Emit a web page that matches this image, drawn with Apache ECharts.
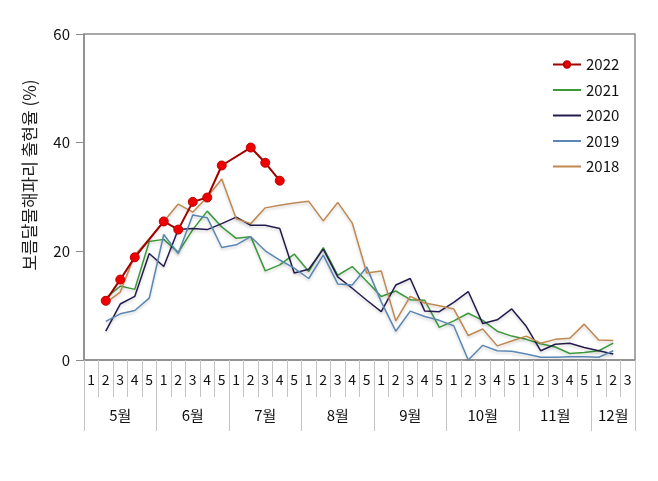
<!DOCTYPE html>
<html>
<head>
<meta charset="utf-8">
<script src="https://cdn.jsdelivr.net/npm/echarts@6/dist/echarts.min.js"></script>
<style>
html,body{margin:0;padding:0;background:#fff;}
#chart{width:658px;height:481px;}
</style>
</head>
<body>
<div id="chart"></div>
<script>
// Months and number of weeks in each
const months = ['5월', '6월', '7월', '8월', '9월', '10월', '11월', '12월'];
const weeksPerMonth = [5, 5, 5, 5, 5, 5, 5, 3];

// Values per week (index 0 = 5월 1주 ... index 37 = 12월 3주)
const y2022 = [null, 10.9, 14.8, 18.9, null, 25.5, 24.0, 29.1, 29.9, 35.8, null, 39.1, 36.3, 33.0,
  null, null, null, null, null, null, null, null, null, null, null, null, null, null, null, null,
  null, null, null, null, null, null, null, null];
const y2021 = [null, 11.4, 13.6, 13.0, 21.8, 22.2, 19.8, 24.0, 27.4, 24.5, 22.4, 22.7, 16.4, 17.5,
  19.5, 16.3, 20.7, 15.6, 17.2, 14.5, 11.7, 12.7, 11.1, 11.0, 6.0, 7.2, 8.6, 7.3, 5.3, 4.4,
  3.8, 3.0, 2.4, 1.2, 1.4, 1.7, 3.1, null];
const y2020 = [null, 5.3, 10.3, 11.7, 19.6, 17.2, 24.0, 24.2, 24.0, 25.1, 26.3, 24.8, 24.8, 24.2,
  16.0, 16.7, 20.4, 15.3, 13.2, 11.0, 8.9, 13.8, 15.0, 9.0, 8.9, 10.6, 12.6, 6.7, 7.4, 9.4,
  6.2, 1.7, 2.9, 3.1, 2.3, 1.7, 1.1, null];
const y2019 = [null, 7.1, 8.5, 9.1, 11.4, 23.1, 19.6, 26.7, 26.2, 20.7, 21.2, 22.7, 20.1, 18.4,
  16.9, 15.0, 19.3, 14.0, 13.8, 17.1, 10.7, 5.3, 9.0, 8.0, 7.3, 6.3, 0.0, 2.7, 1.7, 1.6,
  1.1, 0.5, 0.5, 0.6, 0.6, 0.5, 1.7, null];
const y2018 = [null, 10.5, 12.5, 19.3, 22.3, 25.5, 28.7, 27.2, 30.0, 33.3, 26.0, 25.1, 28.0, 28.5,
  28.9, 29.2, 25.6, 29.0, 25.2, 16.0, 16.4, 7.2, 11.7, 10.5, 10.0, 9.4, 4.5, 5.7, 2.6, 3.5,
  4.4, 3.1, 3.8, 4.0, 6.6, 3.7, 3.6, null];

const yTicks = { min: 0, max: 60, interval: 20 };

// Build week labels and month-axis helpers
const weekLabels = [];
const monthOfWeek = [];
const monthStart = new Set();
const monthMid = new Set();
let idx = 0;
weeksPerMonth.forEach(function (n, m) {
  monthStart.add(idx);
  monthMid.add(idx + Math.floor(n / 2));
  for (let w = 1; w <= n; w++) {
    weekLabels.push(String(w));
    monthOfWeek.push(months[m]);
    idx++;
  }
});

const FONT = '"Noto Sans CJK KR", "Noto Sans", sans-serif';
const lineShadow = { shadowColor: 'rgba(0,0,0,0.18)', shadowBlur: 3, shadowOffsetY: 2 };
const noMarker = { opacity: 0 };

const chart = echarts.init(document.getElementById('chart'), null, { renderer: 'canvas' });
chart.setOption({
  animation: false,
  backgroundColor: '#fff',
  textStyle: { fontFamily: FONT },
  grid: {
    left: 84, right: 23, top: 34, bottom: 121,
    show: true, borderColor: '#8c8c8c', borderWidth: 1.5, backgroundColor: 'transparent'
  },
  legend: {
    orient: 'vertical',
    left: 547, top: 52,
    itemWidth: 28, itemHeight: 8, itemGap: 10.5,
    textStyle: { fontSize: 15, color: '#111', fontFamily: FONT },
    data: [
      { name: '2022' },
      { name: '2021', itemStyle: noMarker },
      { name: '2020', itemStyle: noMarker },
      { name: '2019', itemStyle: noMarker },
      { name: '2018', itemStyle: noMarker }
    ]
  },
  xAxis: [
    {
      type: 'category',
      data: weekLabels,
      boundaryGap: true,
      axisLine: { show: true, lineStyle: { color: '#8c8c8c', width: 1.5 } },
      axisTick: { show: true, interval: 0, length: 37, lineStyle: { color: '#c4c4c4', width: 1 } },
      axisLabel: { interval: 0, margin: 13, fontSize: 14, color: '#111', fontFamily: FONT },
      splitLine: { show: false }
    },
    {
      type: 'category',
      position: 'bottom',
      data: monthOfWeek,
      boundaryGap: true,
      axisLine: { show: false },
      axisTick: {
        show: true, length: 71,
        interval: function (i) { return monthStart.has(i); },
        lineStyle: { color: '#c4c4c4', width: 1 }
      },
      axisLabel: {
        margin: 48, fontSize: 15, color: '#111', fontFamily: FONT,
        interval: function (i) { return monthMid.has(i); }
      },
      splitLine: { show: false }
    }
  ],
  yAxis: {
    type: 'value',
    min: yTicks.min, max: yTicks.max, interval: yTicks.interval,
    name: '보름달물해파리 출현율 (%)',
    nameLocation: 'middle',
    nameGap: 46,
    nameTextStyle: { fontSize: 17, color: '#222', fontFamily: FONT, padding: [0, 0, 0, 44] },
    axisLine: { show: true, lineStyle: { color: '#8c8c8c', width: 1.5 } },
    axisTick: { show: true, length: 8, lineStyle: { color: '#8c8c8c' } },
    axisLabel: { fontSize: 15, color: '#111', margin: 14, fontFamily: FONT },
    splitLine: { show: false }
  },
  series: [
    {
      name: '2022', type: 'line', data: y2022, connectNulls: true,
      symbol: 'circle', symbolSize: 9, showSymbol: true,
      lineStyle: { color: '#a00000', width: 2 },
      itemStyle: { color: '#ee0000', borderColor: '#c00000', borderWidth: 1 },
      z: 10
    },
    {
      name: '2021', type: 'line', data: y2021, symbol: 'none',
      lineStyle: Object.assign({ color: '#3a9a3a', width: 1.5 }, lineShadow),
      itemStyle: { color: '#3a9a3a' }
    },
    {
      name: '2020', type: 'line', data: y2020, symbol: 'none',
      lineStyle: Object.assign({ color: '#241c4e', width: 1.5 }, lineShadow),
      itemStyle: { color: '#241c4e' }
    },
    {
      name: '2019', type: 'line', data: y2019, symbol: 'none',
      lineStyle: Object.assign({ color: '#5a87b3', width: 1.5 }, lineShadow),
      itemStyle: { color: '#5a87b3' }
    },
    {
      name: '2018', type: 'line', data: y2018, symbol: 'none',
      lineStyle: Object.assign({ color: '#c08850', width: 1.5 }, lineShadow),
      itemStyle: { color: '#c08850' }
    }
  ]
});
</script>
</body>
</html>
